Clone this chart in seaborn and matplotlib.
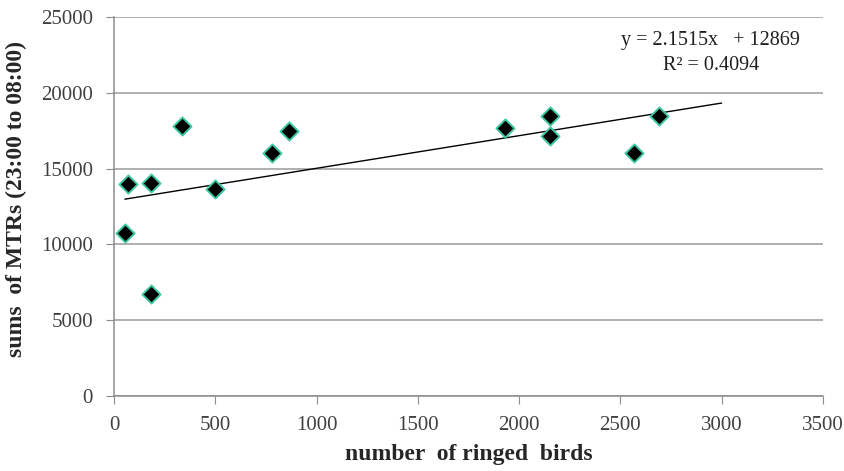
import numpy as np
import pandas as pd
import matplotlib
matplotlib.use("Agg")
import matplotlib.pyplot as plt
import seaborn as sns

# values
ringed_birds = [54, 70, 183, 183, 336, 498, 781, 862, 1930, 2155, 2155, 2568, 2690]
mtr_sums = [10730, 13960, 14070, 6700, 17810, 13630, 16010, 17480, 17660, 18490, 17170, 16010, 18490]

# trendline as printed on the chart
slope = 2.1515
intercept = 12869
r_squared = 0.4094
trend_end = 3000

x_ticks = [0, 500, 1000, 1500, 2000, 2500, 3000, 3500]
y_ticks = [0, 5000, 10000, 15000, 20000, 25000]

sns.set_style("white")
plt.rcParams["font.family"] = ["Liberation Serif", "DejaVu Serif"]

df = pd.DataFrame({"birds": ringed_birds, "mtr": mtr_sums})

fig = plt.figure(figsize=(8.44, 4.71), dpi=100)
ax = fig.add_axes([0.135, 0.159, 0.840, 0.805])

# trendline
line_x = np.array([min(ringed_birds), trend_end])
trend = pd.DataFrame({"x": line_x, "y": slope * line_x + intercept})
sns.lineplot(data=trend, x="x", y="y", ax=ax, color="black", linewidth=1.0, zorder=2)

sns.scatterplot(data=df, x="birds", y="mtr", ax=ax, marker="D", s=85,
                color="black", edgecolor="#3cc8a0", linewidth=1.4, zorder=3)

ax.set_xlim(0, 3500)
ax.set_ylim(0, 25000)
ax.set_xticks(x_ticks)
ax.set_yticks(y_ticks)
ax.tick_params(axis="both", labelsize=15, length=6, direction="out",
               left=True, bottom=True, colors="#8c8c8c", labelcolor="#404040")
ax.tick_params(axis="x", pad=8)
ax.tick_params(axis="y", pad=9)

ax.grid(axis="y", color="#9a9a9a", linewidth=1.1)
ax.grid(axis="x", visible=False)
ax.set_axisbelow(True)

for side in ["top", "right"]:
    ax.spines[side].set_visible(False)
for side in ["left", "bottom"]:
    ax.spines[side].set_color("#8c8c8c")
    ax.spines[side].set_linewidth(1.1)

ax.set_xlabel("number  of ringed  birds", fontsize=17, fontweight="bold", labelpad=7)
ax.set_ylabel("sums  of MTRs (23:00 to 08:00)", fontsize=17, fontweight="bold", labelpad=9)
ax.yaxis.set_label_coords(-0.123, 0.52)

ax.text(0.842, 0.939, f"y = {slope}x   + {intercept}", transform=ax.transAxes,
        ha="center", va="center", fontsize=14.5, color="#202020")
ax.text(0.842, 0.873, f"R² = {r_squared}", transform=ax.transAxes,
        ha="center", va="center", fontsize=14.5, color="#202020")

fig.savefig("out.png", dpi=100)
